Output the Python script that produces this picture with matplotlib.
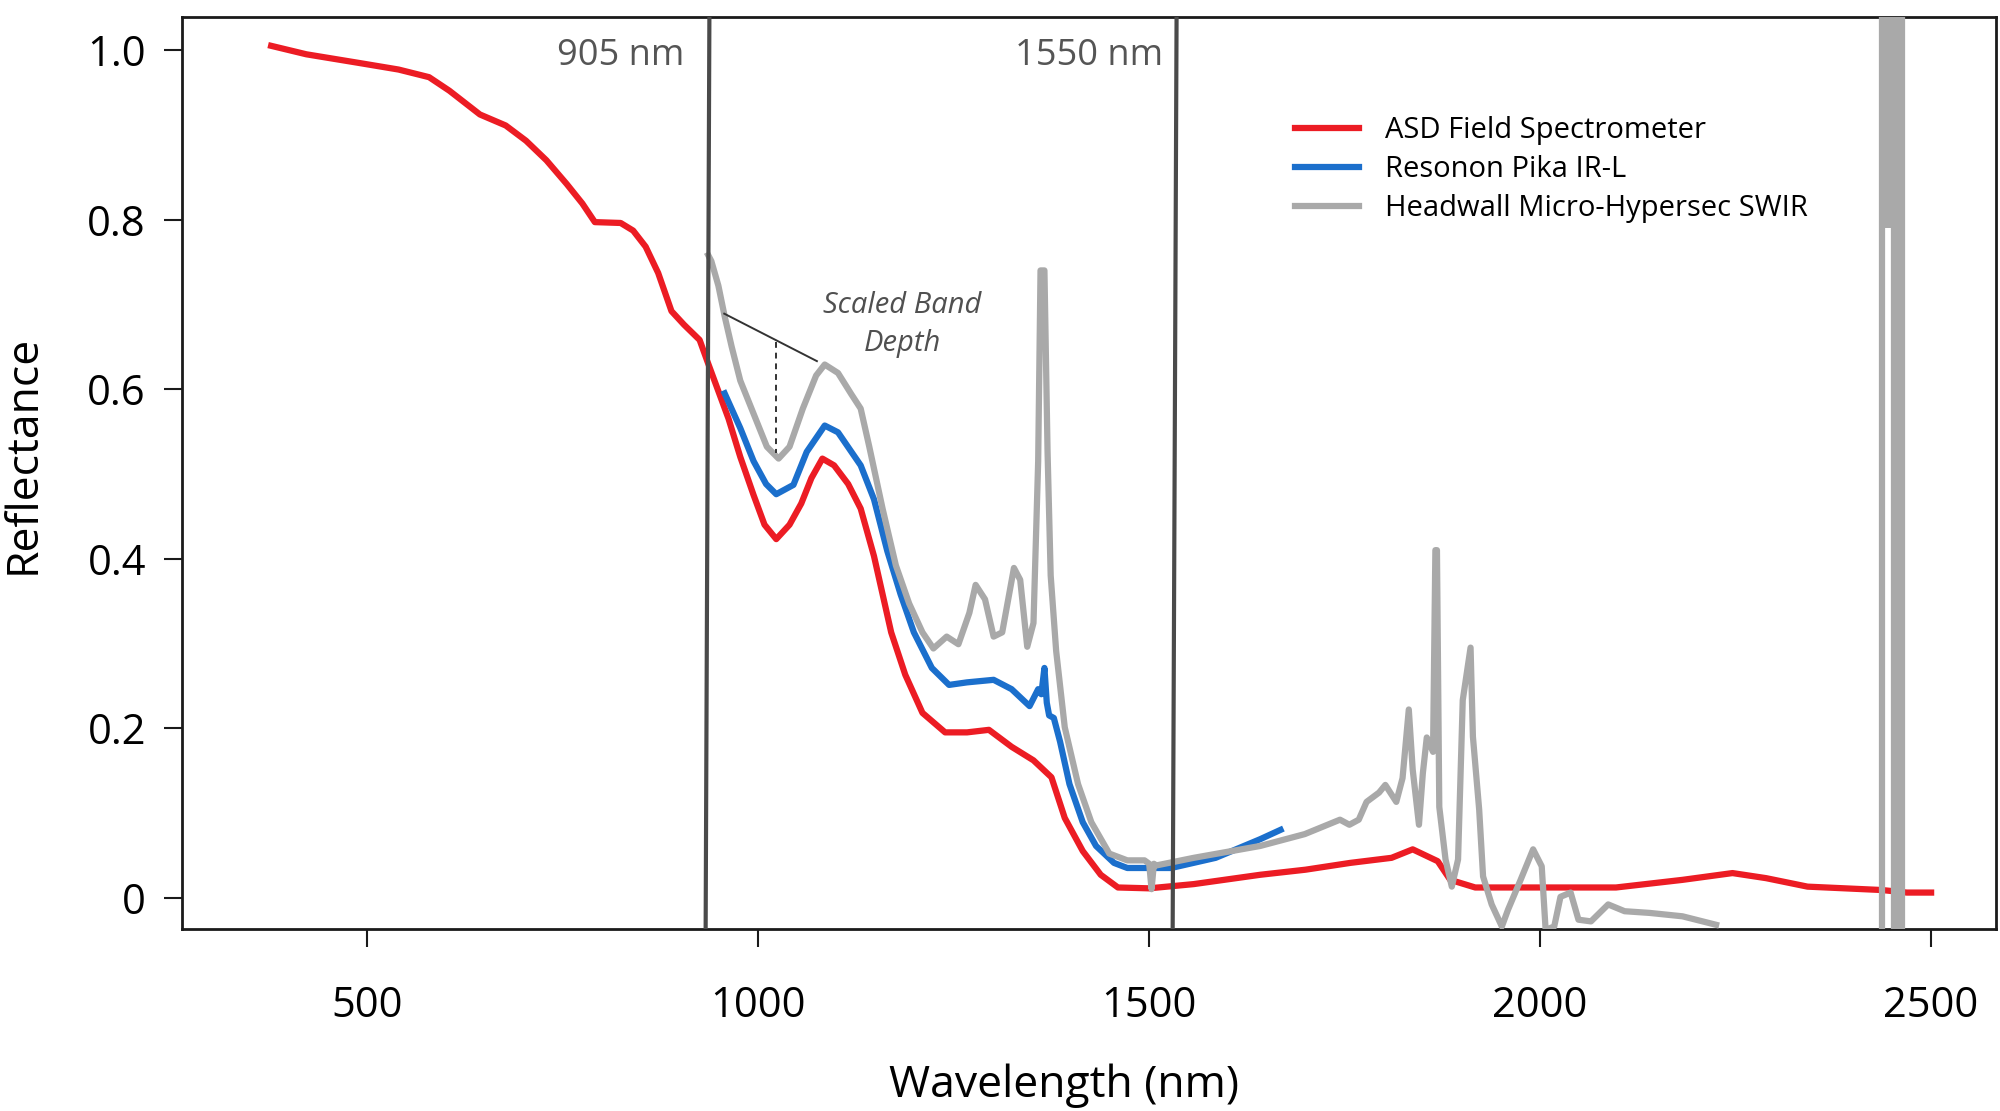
import matplotlib
matplotlib.use("Agg")
import matplotlib.pyplot as plt
import numpy as np

plt.rcParams["font.family"] = ["Open Sans", "DejaVu Sans"]

# ASD Field Spectrometer (red)
asd_nm = [377, 422, 488, 540, 579, 605, 644, 677, 703, 729, 755, 775, 791, 824, 840,
          856, 872, 889, 905, 925, 936, 948, 962, 977, 994, 1008, 1023, 1040, 1055,
          1068, 1082, 1097, 1115, 1131, 1148, 1170, 1188, 1210, 1239, 1267, 1295,
          1324, 1352, 1375, 1392, 1415, 1438, 1460, 1500, 1557, 1642, 1700, 1757,
          1810, 1837, 1869, 1885, 1917, 2000, 2097, 2182, 2246, 2289, 2342, 2437,
          2469, 2500]
asd_refl = [1.005, 0.995, 0.985, 0.977, 0.968, 0.952, 0.924, 0.911, 0.893, 0.870,
            0.842, 0.819, 0.797, 0.796, 0.787, 0.768, 0.737, 0.692, 0.676, 0.658,
            0.630, 0.600, 0.565, 0.520, 0.475, 0.440, 0.423, 0.440, 0.465, 0.495,
            0.518, 0.510, 0.488, 0.459, 0.403, 0.313, 0.263, 0.218, 0.195, 0.195,
            0.198, 0.178, 0.162, 0.142, 0.094, 0.055, 0.027, 0.012, 0.011, 0.016,
            0.027, 0.033, 0.041, 0.047, 0.057, 0.043, 0.021, 0.012, 0.012, 0.012,
            0.021, 0.029, 0.023, 0.013, 0.009, 0.006, 0.006]

# Resonon Pika IR-L (blue)
pika_nm = [957, 977, 994, 1010, 1023, 1045, 1062, 1085, 1102, 1131, 1148, 1165, 1182,
           1199, 1222, 1244, 1267, 1301, 1324, 1347, 1358, 1362, 1366, 1369, 1372,
           1378, 1386, 1398, 1415, 1432, 1455, 1472, 1528, 1585, 1642, 1668]
pika_refl = [0.595, 0.554, 0.515, 0.488, 0.476, 0.487, 0.526, 0.557, 0.549, 0.510,
             0.470, 0.409, 0.358, 0.313, 0.271, 0.251, 0.254, 0.257, 0.246, 0.226,
             0.246, 0.240, 0.271, 0.230, 0.215, 0.212, 0.184, 0.134, 0.089, 0.061,
             0.041, 0.035, 0.035, 0.047, 0.069, 0.080]

# Headwall Micro-Hypersec SWIR (grey)
hw_nm = [936, 940, 949, 957, 966, 977, 994, 1011, 1026, 1040, 1057, 1074, 1085, 1102,
         1119, 1131, 1142, 1159, 1176, 1193, 1210, 1224, 1241, 1256, 1270, 1278, 1290,
         1301, 1312, 1327, 1335, 1344, 1352, 1358, 1361, 1366, 1370, 1374, 1381, 1392,
         1409, 1426, 1449, 1472, 1494, 1500, 1503, 1506, 1509, 1557, 1642, 1699, 1744,
         1756, 1768, 1778, 1794, 1802, 1816, 1824, 1832, 1837, 1845, 1850, 1855, 1863,
         1866, 1868, 1871, 1879, 1887, 1895, 1901, 1911, 1914, 1922, 1927, 1938, 1951,
         1959, 1975, 1991, 2002, 2007, 2018, 2026, 2039, 2049, 2065, 2087, 2108, 2140,
         2182, 2225]
hw_refl = [0.758, 0.751, 0.722, 0.686, 0.650, 0.610, 0.571, 0.532, 0.518, 0.532, 0.577,
           0.616, 0.629, 0.619, 0.594, 0.577, 0.532, 0.459, 0.392, 0.347, 0.313, 0.294,
           0.308, 0.299, 0.336, 0.369, 0.352, 0.308, 0.313, 0.389, 0.375, 0.296, 0.324,
           0.515, 0.740, 0.740, 0.526, 0.380, 0.291, 0.201, 0.134, 0.089, 0.052, 0.044,
           0.044, 0.040, 0.010, 0.040, 0.038, 0.047, 0.061, 0.075, 0.092, 0.086, 0.092,
           0.113, 0.124, 0.133, 0.113, 0.141, 0.222, 0.151, 0.086, 0.147, 0.189, 0.172,
           0.410, 0.410, 0.107, 0.045, 0.013, 0.045, 0.233, 0.295, 0.190, 0.104, 0.025,
           -0.008, -0.034, -0.014, 0.021, 0.057, 0.037, -0.038, -0.034, 0.001, 0.006,
           -0.026, -0.028, -0.008, -0.016, -0.018, -0.022, -0.032]

# Headwall noise near 2450 nm (off-scale swings, NaN separates the swings)
hw_noise_nm = [2437, 2437, np.nan, 2442, 2442, np.nan, 2446, 2446, np.nan,
               2453, 2453, np.nan, 2458, 2458, np.nan, 2463, 2463]
hw_noise_refl = [-0.2, 1.2, np.nan, 0.79, 1.2, np.nan, 0.79, 1.2, np.nan,
                 -0.2, 1.2, np.nan, -0.2, 1.2, np.nan, -0.2, 1.2]

# band depth annotation
continuum_nm = [956.5, 1075]
continuum_refl = [0.689, 0.633]
depth_nm = [1023, 1023]
depth_refl = [0.656, 0.525]

# marker lines (drawn slightly tilted in the original)
marker_labels = ["905 nm", "1550 nm"]
marker_top_nm = [937.5, 1535]
marker_bottom_nm = [932.7, 1530]
marker_label_nm = [905, 1518]

yticks = [0, 0.2, 0.4, 0.6, 0.8, 1.0]
ytick_labels = ["0", "0.2", "0.4", "0.6", "0.8", "1.0"]
xticks = [500, 1000, 1500, 2000, 2500]

RED = "#ec1c24"
BLUE = "#1b6fcc"
GREY = "#a9a9a9"

fig = plt.figure(figsize=(20, 11.11), dpi=100)
ax = fig.add_axes([0.091, 0.1638, 0.907, 0.8209])

ax.plot(asd_nm, asd_refl, color=RED, lw=4.5, label="ASD Field Spectrometer", zorder=2)
ax.plot(pika_nm, pika_refl, color=BLUE, lw=4.5, label="Resonon Pika IR-L", zorder=3)
ax.plot(hw_nm, hw_refl, color=GREY, lw=4.5, label="Headwall Micro-Hypersec SWIR", zorder=4)
ax.plot(hw_noise_nm, hw_noise_refl, color=GREY, lw=4.5, solid_capstyle="butt", zorder=4)

ax.plot(continuum_nm, continuum_refl, color="#333333", lw=1.4, zorder=5)
ax.plot(depth_nm, depth_refl, color="#333333", lw=1.4, ls=(0, (3, 2.5)), zorder=5)
ax.text(1184, 0.676, "Scaled Band\nDepth", style="italic", fontsize=21,
        color="#505050", ha="center", va="center", linespacing=1.4)

for lab, xt, xb, xl in zip(marker_labels, marker_top_nm, marker_bottom_nm, marker_label_nm):
    ax.plot([xt, xb], [1.039, -0.037], color="#4a4a4a", lw=3, zorder=6)
    ax.text(xl, 0.993, lab, fontsize=26, color="#555555", ha="right", va="center")

ax.set_xlim(263, 2583)
ax.set_ylim(-0.037, 1.039)
ax.set_xticks(xticks)
ax.set_yticks(yticks)
ax.set_yticklabels(ytick_labels)

for s in ax.spines.values():
    s.set_linewidth(2)
    s.set_color("#1a1a1a")
ax.tick_params(axis="both", length=13, width=1.5, labelsize=30, color="#1a1a1a")
ax.tick_params(axis="x", pad=27)
ax.tick_params(axis="y", pad=13)

ax.set_xlabel("Wavelength (nm)", fontsize=32)
ax.set_ylabel("Reflectance", fontsize=32)
ax.xaxis.label.set_va("center")
ax.yaxis.label.set_va("center")
ax.xaxis.set_label_coords(0.486, -0.172)
ax.yaxis.set_label_coords(-0.0877, 0.52)

ax.legend(loc="upper left", bbox_to_anchor=(0.6136, 0.891), frameon=False,
          fontsize=21, handlelength=2.2, handletextpad=0.9, labelspacing=0.34,
          borderpad=0, borderaxespad=0)

fig.savefig("out.png", dpi=100)
